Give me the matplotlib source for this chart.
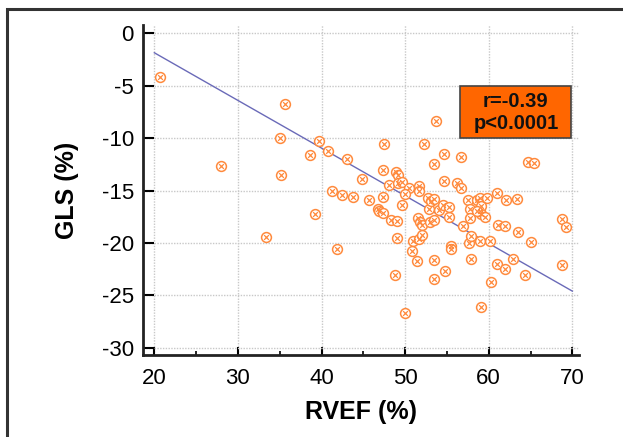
import matplotlib
matplotlib.use("Agg")
import matplotlib.pyplot as plt
from matplotlib.patches import Rectangle
from matplotlib.ticker import MultipleLocator

# RVEF (%) vs GLS (%)
rvef = [20.7, 35.6, 28.0, 35.0, 35.2, 33.4, 38.6, 39.7, 40.8, 43.0,
        39.2, 41.3, 42.4, 41.8, 43.8, 44.8, 45.7, 47.5, 47.3, 47.3,
        46.7, 46.9, 47.3, 48.1, 48.3, 48.9, 49.1, 49.1, 49.6, 49.0,
        49.0, 48.8, 49.6, 50.0, 50.5, 50.0, 50.9, 50.8, 51.4, 51.7,
        51.7, 52.2, 51.5, 51.8, 52.0, 51.7, 52.0, 52.7, 52.9, 53.1,
        53.5, 53.5, 53.7, 53.0, 53.4, 53.4, 53.4, 54.0, 54.5, 54.7,
        54.7, 55.2, 55.3, 54.8, 55.5, 55.5, 56.2, 56.7, 56.7, 56.9,
        57.5, 57.7, 57.7, 57.6, 57.9, 57.9, 58.6, 59.0, 58.9, 59.1,
        59.1, 58.6, 59.6, 59.8, 59.0, 59.1, 60.2, 60.3, 61.0, 61.1,
        61.9, 62.1, 61.0, 61.9, 63.4, 63.5, 62.9, 64.3, 64.7, 65.4,
        65.1, 68.8, 69.3, 68.8]
gls = [-4.2, -6.7, -12.7, -10.0, -13.5, -19.4, -11.6, -10.3, -11.2, -12.0,
       -17.2, -15.0, -15.4, -20.6, -15.6, -13.9, -15.9, -10.6, -13.0, -15.6,
       -16.8, -17.0, -17.1, -14.5, -17.8, -13.2, -13.5, -14.3, -14.2, -17.9,
       -19.5, -23.1, -16.4, -26.7, -14.8, -15.3, -19.8, -20.8, -21.7, -14.6,
       -15.0, -10.6, -17.6, -18.0, -18.3, -19.6, -19.2, -15.7, -16.8, -16.0,
       -15.8, -12.5, -8.4, -18.0, -17.8, -21.6, -23.4, -16.9, -16.4, -14.1,
       -11.5, -17.5, -16.6, -22.7, -20.3, -20.6, -14.3, -11.8, -14.8, -18.4,
       -15.9, -16.8, -17.6, -20.0, -19.3, -21.5, -15.9, -15.7, -16.95, -16.5,
       -17.2, -16.95, -17.5, -15.7, -19.8, -26.1, -19.8, -23.7, -15.2, -18.3,
       -18.4, -15.9, -22.0, -22.5, -15.8, -19.0, -21.5, -23.1, -12.3, -12.4,
       -19.9, -17.7, -18.5, -22.1]

# regression line end points
fit_x = [20, 70]
fit_y = [-1.85, -24.6]

stats_text = "r=-0.39\np<0.0001"

plt.rcParams["font.family"] = ["Liberation Sans", "DejaVu Sans"]
plt.rcParams["axes.unicode_minus"] = False

fig = plt.figure(figsize=(6.23, 4.37), dpi=100)
ax = fig.add_axes([0.2303, 0.1876, 0.6991, 0.7552])

# outer frame (only left and top edges fall inside the picture)
fig.patches.append(Rectangle((7 / 623, -0.1), 1.2, 1.1 - 9 / 437,
                             transform=fig.transFigure, fill=False,
                             edgecolor="#333333", linewidth=2.2))

ax.plot(fit_x, fit_y, color="#6a6ab8", linewidth=1.0, zorder=2)

ax.scatter(rvef, gls, s=50, facecolors="white", edgecolors="#ff8a3d",
           linewidths=1.1, zorder=3)
ax.scatter(rvef, gls, s=12, marker="x", color="#ff8a3d", linewidths=0.9,
           zorder=4)

ax.set_xlim(18.7, 70.8)
ax.set_ylim(-30.7, 0.8)
ax.xaxis.set_major_locator(MultipleLocator(10))
ax.xaxis.set_minor_locator(MultipleLocator(5))
ax.yaxis.set_major_locator(MultipleLocator(5))

ax.grid(True, which="major", color="#c8c8c8", linestyle=(0, (1, 1)),
        linewidth=1.0)
ax.set_axisbelow(True)

for side in ["top", "right"]:
    ax.spines[side].set_visible(False)
for side in ["left", "bottom"]:
    ax.spines[side].set_linewidth(2.0)
    ax.spines[side].set_color("#222222")

ax.tick_params(axis="y", which="major", direction="in", length=8, width=1.5,
               labelsize=16, pad=7)
ax.tick_params(axis="x", which="major", direction="in", length=6, width=1.5,
               labelsize=16, pad=9)
ax.tick_params(axis="x", which="minor", direction="in", length=3, width=1.2)

ax.set_xlabel("RVEF (%)", fontsize=18, fontweight="bold", labelpad=8)
ax.set_ylabel("GLS (%)", fontsize=18, fontweight="bold", labelpad=16)

# stats box
ax.add_patch(Rectangle((56.6, -10.0), 13.3, 4.95, facecolor="#ff6600",
                       edgecolor="#444444", linewidth=1.2, zorder=5))
ax.text(63.25, -7.55, stats_text, ha="center", va="center", fontsize=14.5,
        fontweight="bold", linespacing=1.15, color="#111111", zorder=6)

fig.savefig("out.png", dpi=100)
